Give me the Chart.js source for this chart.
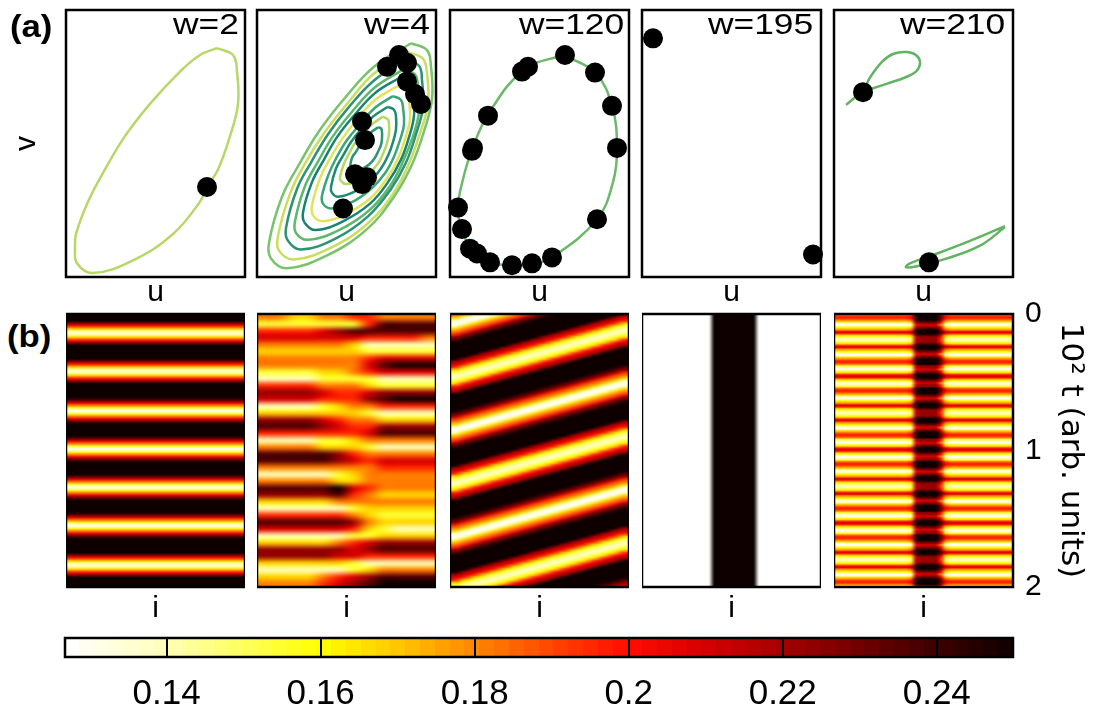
<!DOCTYPE html>
<html>
<head>
<meta charset="utf-8">
<script src="https://cdn.jsdelivr.net/npm/chart.js@4.4.1/dist/chart.umd.min.js"></script>
<style>
  body { margin: 0; background: #fff; }
  #fig { position: relative; width: 1107px; height: 715px; overflow: hidden; background: #fff; }
  #fig canvas { position: absolute; }
  .t { position: absolute; white-space: nowrap; color: #000; font-family: 'Liberation Sans', Arial, sans-serif; z-index: 5; }
  .tag { font-weight: bold; font-size: 31px; line-height: 31px; transform: scaleX(1.12); transform-origin: 0 50%; }
  .w { font-size: 30px; line-height: 30px; transform: scaleX(1.18); transform-origin: 100% 50%; }
</style>
</head>
<body>
<div id="fig">
  <div class="t tag" style="left:10px;top:11px">(a)</div>
  <div class="t tag" style="left:7px;top:321px">(b)</div>
  <div class="t w" style="right:868px;top:9px">w=2</div>
  <div class="t w" style="right:677px;top:9px">w=4</div>
  <div class="t w" style="right:483px;top:9px">w=120</div>
  <div class="t w" style="right:294px;top:9px">w=195</div>
  <div class="t w" style="right:102px;top:9px">w=210</div>
</div>
<script>
// ---------- data ----------
// (a) phase portraits, u and v in panel units (u: 0..179, v: 0..273)
var loopW2 = [[151,234],[167,227],[171,210],[172,177],[164,144],[152,110],[141,92],[134,77],[107,44],[67,17],[27,4],[11,14],[9,30],[10,44],[22,77],[39,110],[59,144],[84,177],[114,210],[134,227],[151,234]];
var dotsW2 = [[141,92]];

// w=4: nested loops, outermost first
var loopsW4 = [
  [[154,239],[170,232],[174,215],[175,182],[167,149],[155,115],[137,82],[110,49],[70,22],[30,9],[14,19],[12,35],[25,82],[42,115],[62,149],[87,182],[117,215],[154,239]],
  [[151,230],[166,223],[170,208],[171,177],[163,147],[152,116],[136,85],[111,55],[74,30],[37,18],[22,27],[21,42],[33,85],[48,116],[67,147],[90,177],[117,208],[151,230]],
  [[148,222],[162,216],[165,201],[166,174],[159,146],[149,117],[134,90],[111,62],[78,39],[44,28],[31,37],[29,50],[40,90],[54,117],[71,146],[92,174],[117,201],[148,222]],
  [[146,212],[158,207],[161,194],[162,169],[156,144],[146,118],[133,93],[112,68],[82,48],[51,38],[39,45],[38,57],[48,93],[61,118],[76,144],[95,169],[118,194],[146,212]],
  [[143,204],[154,199],[156,188],[157,165],[152,143],[144,120],[131,97],[113,75],[86,57],[59,48],[48,55],[46,66],[55,97],[67,120],[80,143],[97,165],[118,188],[143,204]],
  [[140,195],[150,191],[152,181],[153,161],[148,141],[141,121],[130,101],[114,81],[90,65],[66,57],[56,63],[55,73],[63,101],[73,121],[85,141],[100,161],[118,181],[140,195]],
  [[136,185],[144,181],[146,173],[147,156],[143,140],[137,123],[128,106],[114,90],[94,76],[74,70],[66,75],[65,83],[72,106],[80,123],[90,140],[103,156],[118,173],[136,185]],
  [[131,174],[137,171],[139,164],[139,151],[136,138],[131,124],[124,111],[113,98],[97,87],[81,82],[75,86],[74,92],[79,111],[86,124],[94,138],[104,151],[116,164],[131,174]],
  [[126,164],[131,161],[132,156],[132,146],[130,137],[126,126],[121,116],[113,107],[101,98],[89,95],[84,98],[83,102],[87,116],[92,126],[98,137],[106,146],[115,156],[126,164]],
  [[121,153],[124,152],[125,148],[125,142],[124,135],[121,128],[118,122],[112,115],[104,110],[96,107],[93,109],[93,112],[95,122],[99,128],[103,135],[108,142],[114,148],[121,153]]
];
var colorsW4 = ['#79c36a', '#c9de5f', '#2b9274', '#5cb86a', '#16826f', '#e1e45a', '#3aa577', '#1f8a72', '#b6d95f', '#2c9474'];
var dotsW4 = [[142,227],[130,215],[150,219],[150,200],[158,187],[164,177],[105,159],[108,140],[98,105],[110,102],[105,95],[86,70]];

var loopW120 = [[113,227],[145,209],[162,175],[167,132],[163,97],[147,59],[102,20],[82,13],[62,12],[40,15],[24,25],[12,48],[8,71],[13,100],[22,130],[38,166],[74,212],[113,227]];
var dotsW120 = [[115,227],[145,209],[162,175],[167,132],[147,59],[102,20],[82,14],[62,12],[40,15],[27,24],[20,29],[12,49],[8,71],[22,129],[23,132],[38,165],[72,210],[78,215]];

var dotsW195 = [[11,244],[171,23]];

var loopsW210 = [
  [[12,176],[19,182],[29,190],[36,204],[48,220],[59,228],[73,230],[83,226],[86,218],[82,210],[71,204],[54,198],[39,193],[29,190]],
  [[171,52],[136,37],[103,24],[76,14],[72,10],[83,11],[113,19],[146,32],[171,51]]
];
var dotsW210 = [[29,189],[95,15]];

// (b) space-time maps, colour levels 0 (white, 0.127) .. 9 (black, 0.25)
// w=2: profile along t (0..2, step 0.02), same for every i
var p1Profile = '9997531135' + '7999999753' + '1135799999' + '9864202468' + '9999986420' +
                '2468999998' + '6420246899' + '9998642024' + '6899999975' + '3113579999';
// w=4: 40 rows (t) x 12 columns (i)
var p2Rows = [
  '443344554444', '222222258888', '555567888888', '666666655554', '444444311111',
  '333333322222', '444444456666', '444444468999', '222233456666', '111122221111',
  '555544432222', '777765567777', '666655578999', '111123445555', '333333321111',
  '777765443333', '888876557777', '555555568888', '111122344444', '444433321111',
  '888887544444', '888887656666', '444444445555', '111112344444', '444443344444',
  '888889654444', '777778543333', '333334444444', '111111233333', '555555432222',
  '888888743333', '666666532111', '111111223333', '333334567777', '777777678888',
  '777776655555', '333333211111', '111111234444', '333345678888', '444456789999'
];
// w=120: profile at the left edge (t step 0.02) and the shift, in steps, of each of 18 columns
var p3Profile = '4310134578' + '9999999765' + '3211235679' + '9999998754' + '3101345789' + '9999997653' +
                '2112356799' + '9999987543' + '1013457899' + '9999976532' + '1123567999' + '9999876431';
var p3Shift = [0, 1, 2, 3, 4, 5, 6, 7, 8, 9, 10, 11, 12, 13, 14, 15, 16, 17];
// w=195: profile along i (36 columns), same for every t
var p4Profile = '00000000000000' + '999999999' + '0000000000000';
// w=210: profile outside and inside the dark band (t step 0.0125), band weight per i column (0..9)
var p5Outside = '4554310234653211235643201345542102356532012' +
                '4554310234653211235643201345542102356532012' +
                '4554310234653211235643201345542102356532012' +
                '4554310234653211235643201345542';
var p5Inside  = '9999876789998777789998767899997767899987677' +
                '9999876789998777789998767899997767899987677' +
                '9999876789998777789998767899997767899987677' +
                '9999876789998777789998767899997';
var p5Band = '000000000000000' + '18999961' + '0000000000000';

// colour bar
var cbMin = 0.1268, cbMax = 0.2499;
var cbTicks = [0.14, 0.16, 0.18, 0.2, 0.22, 0.24];
var cmapStops = [
  [0.127, [255,255,255]], [0.14, [255,255,185]], [0.16, [255,255,0]], [0.17, [255,200,0]],
  [0.18, [255,135,0]], [0.19, [255,70,0]], [0.20, [255,12,0]], [0.21, [212,0,0]],
  [0.22, [165,0,0]], [0.23, [112,0,0]], [0.24, [62,0,0]], [0.25, [15,0,0]]
];

// ---------- layout ----------
var boxLeft = [66, 257, 450, 642, 834];
var boxW = 179;

Chart.defaults.font.family = "'Liberation Sans', Arial, Helvetica, sans-serif";
Chart.defaults.color = '#000';

var fig = document.getElementById('fig');

function addCanvas(left, top, w, h) {
  var c = document.createElement('canvas');
  c.width = w; c.height = h;
  c.style.left = left + 'px'; c.style.top = top + 'px';
  c.style.width = w + 'px'; c.style.height = h + 'px';
  fig.insertBefore(c, fig.firstChild);
  return c;
}

function lev(ch) { return 0.127 + (+ch) * (0.25 - 0.127) / 9; }

function cmap(v) {
  if (v <= cmapStops[0][0]) return cmapStops[0][1];
  for (var i = 1; i < cmapStops.length; i++) {
    var a = cmapStops[i - 1], b = cmapStops[i];
    if (v <= b[0]) {
      var f = (v - a[0]) / (b[0] - a[0]);
      return [0, 1, 2].map(function (k) { return Math.round(a[1][k] + f * (b[1][k] - a[1][k])); });
    }
  }
  return cmapStops[cmapStops.length - 1][1];
}

// black frame round the plot area
var framePlugin = {
  id: 'frame',
  afterDraw: function (chart) {
    var a = chart.chartArea, ctx = chart.ctx;
    ctx.save();
    ctx.lineWidth = 2.5;
    ctx.strokeStyle = '#000';
    ctx.strokeRect(a.left, a.top, a.right - a.left, a.bottom - a.top);
    ctx.restore();
  }
};

// draws a value matrix as an image, placed through the x / y scales
function heatPlugin(grid) {
  return {
    id: 'heat',
    beforeDraw: function (chart) {
      var rows = grid.length, cols = grid[0].length;
      var off = document.createElement('canvas');
      off.width = cols; off.height = rows;
      var oc = off.getContext('2d');
      var img = oc.createImageData(cols, rows);
      for (var r = 0; r < rows; r++) {
        for (var c = 0; c < cols; c++) {
          var col = cmap(grid[r][c]), i = (r * cols + c) * 4;
          img.data[i] = col[0]; img.data[i + 1] = col[1]; img.data[i + 2] = col[2]; img.data[i + 3] = 255;
        }
      }
      oc.putImageData(img, 0, 0);
      var xs = chart.scales.x, ys = chart.scales.y;
      var x0 = xs.getPixelForValue(xs.min), x1 = xs.getPixelForValue(xs.max);
      var y0 = ys.getPixelForValue(0), y1 = ys.getPixelForValue(2);
      var ctx = chart.ctx;
      ctx.save();
      ctx.imageSmoothingEnabled = true;
      ctx.imageSmoothingQuality = 'high';
      ctx.drawImage(off, x0, Math.min(y0, y1), x1 - x0, Math.abs(y1 - y0));
      ctx.restore();
    }
  };
}

var colorbarPlugin = {
  id: 'colorbar',
  beforeDraw: function (chart) {
    var xs = chart.scales.x, a = chart.chartArea, ctx = chart.ctx;
    var n = 64, step = (cbMax - cbMin) / n;
    for (var j = 0; j < n; j++) {
      var v0 = cbMin + j * step;
      var col = cmap(v0 + step / 2);
      var p0 = xs.getPixelForValue(v0), p1 = xs.getPixelForValue(v0 + step);
      ctx.fillStyle = 'rgb(' + col.join(',') + ')';
      ctx.fillRect(Math.floor(p0), a.top, Math.ceil(p1) - Math.floor(p0), a.bottom - a.top);
    }
  }
};

function bareAxis(extra) {
  var o = { display: true, grid: { display: false, drawTicks: false }, border: { display: false }, ticks: { display: false } };
  for (var k in extra) o[k] = extra[k];
  return o;
}

var baseOpts = function () {
  return { responsive: false, animation: false, events: [], plugins: { legend: { display: false }, tooltip: { enabled: false } } };
};

function pts(list) { return list.map(function (p) { return { x: p[0], y: p[1] }; }); }

// ---------- (a) phase portraits ----------
function phaseChart(k, loops, colors, dots) {
  var withV = k === 0;
  var left = withV ? 0 : boxLeft[k] - 14;
  var w = withV ? boxLeft[k] + boxW + 14 : boxW + 28;
  var cv = addCanvas(left, 0, w, 309);
  var ds = [{ data: pts(dots), pointRadius: 10, pointHoverRadius: 10, pointBackgroundColor: '#000', pointBorderWidth: 0, showLine: false, clip: false }];
  loops.forEach(function (lp, j) {
    ds.push({ data: pts(lp), showLine: true, borderColor: colors[j], borderWidth: 2.5, pointRadius: 0, tension: 0.4, clip: false });
  });
  var o = baseOpts();
  o.layout = { padding: { top: 4, left: withV ? 0 : 14, right: 14, bottom: 0 } };
  o.scales = {
    x: bareAxis({ min: 0, max: boxW, title: { display: true, text: 'u', font: { size: 30, lineHeight: 1 }, padding: { top: 1, bottom: 1 } } }),
    y: withV
      ? bareAxis({ min: 0, max: 273, title: { display: true, text: 'v', font: { size: 30, lineHeight: 1 }, padding: { top: 12, bottom: 24 } } })
      : { display: false, min: 0, max: 273 }
  };
  new Chart(cv, { type: 'scatter', data: { datasets: ds }, options: o, plugins: [framePlugin] });
}

phaseChart(0, [loopW2], ['#b7d868'], dotsW2);
phaseChart(1, loopsW4, colorsW4, dotsW4);
phaseChart(2, [loopW120], ['#6cb96c'], dotsW120);
phaseChart(3, [], [], dotsW195);
phaseChart(4, loopsW210, ['#62b362', '#62b362'], dotsW210);

// ---------- (b) space-time maps ----------
var grid1 = p1Profile.split('').map(function (ch) { return [lev(ch)]; });
var grid2 = p2Rows.map(function (row) { return row.split('').map(lev); });
var grid3 = [];
for (var r = 0; r < 100; r++) {
  grid3.push(p3Shift.map(function (s) { return lev(p3Profile[r + s]); }));
}
var grid4 = [p4Profile.split('').map(lev)];
var grid5 = [];
for (var r5 = 0; r5 < p5Outside.length; r5++) {
  var vo = lev(p5Outside[r5]), vi = lev(p5Inside[r5]);
  grid5.push(p5Band.split('').map(function (ch) { return vo + (vi - vo) * (+ch) / 9; }));
}

function heatChart(k, grid) {
  var withT = k === 4;
  var cv = addCanvas(boxLeft[k], 284, withT ? 256 : boxW, 340);
  var o = baseOpts();
  o.layout = { padding: { top: 30, left: 0, right: 0, bottom: 0 } };
  o.scales = {
    x: bareAxis({ min: 0, max: 36, title: { display: true, text: 'i', font: { size: 30, lineHeight: 1 }, padding: { top: 7, bottom: 0 } } }),
    y: withT
      ? { position: 'right', min: 0, max: 2, reverse: true,
          afterFit: function (s) { s.width = 77; },
          ticks: { stepSize: 1, font: { size: 30, lineHeight: 1 }, padding: 12 },
          grid: { display: false, drawTicks: false }, border: { display: false },
          title: { display: true, text: '10² t (arb. units)', font: { family: "'DejaVu Sans', sans-serif", size: 31, lineHeight: 1 }, padding: { top: 4, bottom: 14 } } }
      : { display: false, min: 0, max: 2, reverse: true }
  };
  new Chart(cv, { type: 'scatter', data: { datasets: [] }, options: o, plugins: [heatPlugin(grid), framePlugin] });
}

heatChart(0, grid1);
heatChart(1, grid2);
heatChart(2, grid3);
heatChart(3, grid4);
heatChart(4, grid5);

// ---------- colour bar ----------
(function () {
  var cv = addCanvas(45, 628, 988, 87);
  var o = baseOpts();
  o.layout = { padding: { top: 10, left: 20, right: 20, bottom: 3 } };
  o.scales = {
    x: {
      type: 'linear', min: cbMin, max: cbMax,
      afterBuildTicks: function (s) { s.ticks = cbTicks.map(function (v) { return { value: v }; }); },
      afterFit: function (s) { s.height = 55; },
      ticks: { font: { size: 35, lineHeight: 1 }, padding: 20, callback: function (v) { return String(+v.toFixed(2)); } },
      grid: { display: true, drawOnChartArea: true, drawTicks: false, color: '#000', lineWidth: 2 },
      border: { display: false }
    },
    y: { display: false, min: 0, max: 1 }
  };
  new Chart(cv, { type: 'scatter', data: { datasets: [] }, options: o, plugins: [colorbarPlugin, framePlugin] });
})();
</script>
</body>
</html>
